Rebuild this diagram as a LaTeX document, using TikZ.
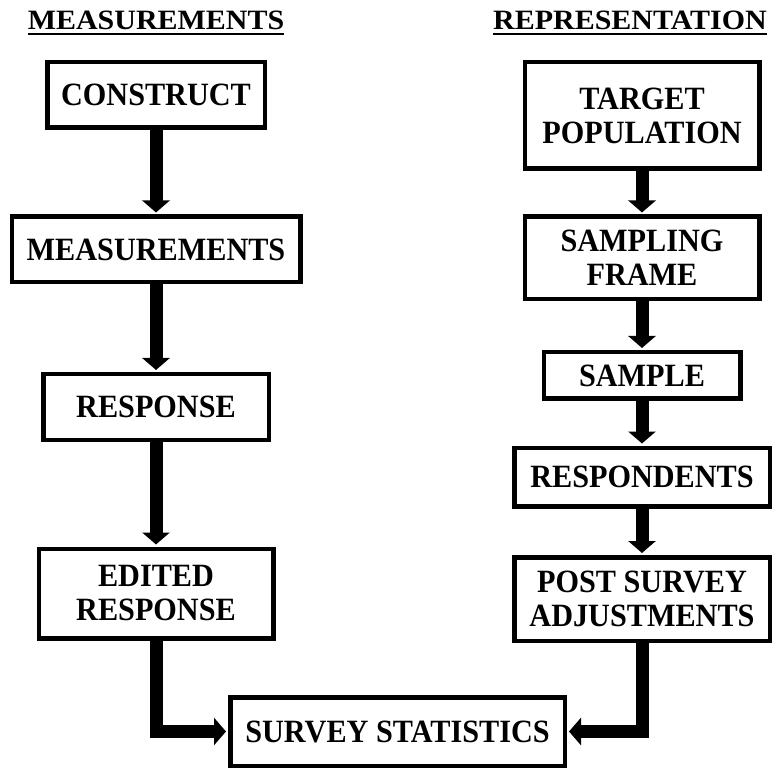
\documentclass[tikz,border=0pt]{standalone}
\usepackage{fontspec}
\setmainfont{Liberation Serif}
\newfontfamily\boxfont[FakeStretch=0.93]{Liberation Serif}
\newfontfamily\headfont[FakeStretch=1.07]{Liberation Serif}
\newsavebox{\headbox}
\newcommand{\headline}[1]{\sbox{\headbox}{#1}\rlap{\rule[-5.5pt]{\wd\headbox}{2.5pt}}\usebox{\headbox}}
\usetikzlibrary{positioning,arrows.meta}

\begin{document}
\begin{tikzpicture}
            [x=1pt, y=-1pt,
             box/.style = {draw, line width=4.5pt, inner sep=0pt, align=center,
                           font=\boxfont\bfseries\fontsize{32.5}{34}\selectfont},
             heading/.style = {inner sep=0pt, font=\headfont\bfseries\fontsize{28}{32}\selectfont},
             flow/.style = {line width=13pt, line join=miter, shorten >=2pt,
                            -{Triangle[width=27pt,length=12pt]}}]
            \useasboundingbox (0,0) rectangle (772,770);
            % headings
            \node[heading, anchor=base] (mhead) at (156,30) {\headline{MEASUREMENTS}};
            \node[heading, anchor=base] (rhead) at (630,30) {\headline{REPRESENTATION}};
            % measurement side
            \node[box, minimum width=217.5pt, minimum height=65.5pt] (construct) at (156,95) {CONSTRUCT};
            \node[box, minimum width=288.5pt, minimum height=65.5pt] (measures) [below=84.5pt of construct] {MEASUREMENTS};
            \node[box, minimum width=225.5pt, minimum height=65.5pt] (response) [below=87.5pt of measures] {RESPONSE};
            \node[box, minimum width=234.5pt, minimum height=89.5pt] (edited) [below=104.5pt of response] {EDITED\\RESPONSE};
            % representation side
            \node[box, minimum width=234.5pt, minimum height=106.5pt] (target) at (642,115.5) {TARGET\\POPULATION};
            \node[box, minimum width=234.5pt, minimum height=82.5pt] (frame) [below=43.5pt of target] {SAMPLING\\FRAME};
            \node[box, minimum width=196.5pt, minimum height=46.5pt] (sample) [below=48.5pt of frame] {SAMPLE};
            \node[box, minimum width=255.5pt, minimum height=58.5pt] (respondents) [below=44.5pt of sample] {RESPONDENTS};
            \node[box, minimum width=255.5pt, minimum height=83.5pt] (post) [below=46.5pt of respondents] {POST SURVEY\\ADJUSTMENTS};
            % result
            \node[box, minimum width=334.5pt, minimum height=68.5pt] (stats) at (397.5,731.5) {SURVEY STATISTICS};
            \draw[flow] (construct) -- (measures);
            \draw[flow] (measures) -- (response);
            \draw[flow] (response) -- (edited);
            \draw[flow] (edited) |- (stats);
            \draw[flow] (target) -- (frame);
            \draw[flow] (frame) -- (sample);
            \draw[flow] (sample) -- (respondents);
            \draw[flow] (respondents) -- (post);
            \draw[flow] (post) |- (stats);
        \end{tikzpicture}
\end{document}
